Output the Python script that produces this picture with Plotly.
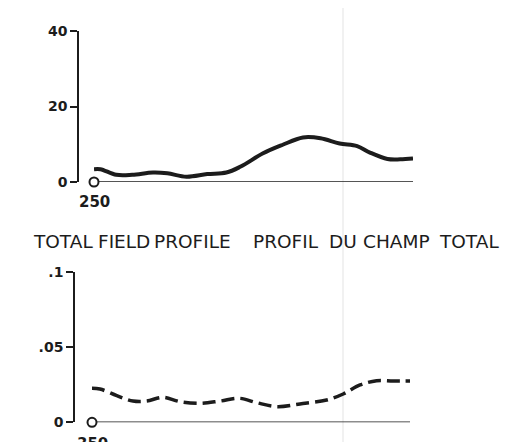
import plotly.graph_objects as go

# Top panel: total field profile, distance along profile (arbitrary units)
top_dist = [0, 2, 7, 12, 18.5, 23, 29, 35.5, 41.5, 46, 53, 59, 65.5, 71, 77, 82.5, 86.5, 92, 96, 100]
top_vals = [3.4, 3.4, 1.9, 1.9, 2.5, 2.3, 1.4, 2.1, 2.5, 4.1, 7.6, 9.8, 11.8, 11.6, 10.2, 9.5, 7.8, 6.1, 6.0, 6.2]

# Bottom panel: dashed profile
bot_dist = [0, 2.5, 7.8, 12.9, 17.2, 22.3, 27.7, 34, 40.3, 46.5, 51.8, 58.2, 65.4, 73.8, 79, 84.3, 89.5, 94.7, 100]
bot_vals = [0.0226, 0.0221, 0.0177, 0.0141, 0.0141, 0.0166, 0.0137, 0.0126, 0.0141, 0.0159, 0.013,
            0.0104, 0.0122, 0.0148, 0.0188, 0.0248, 0.0276, 0.0274, 0.0274]

base_dist = [0, 100]
base_vals = [0, 0]

top_ticks = [0, 20, 40]
top_ticktext = ["0", "20", "40"]
bot_ticks = [0, 0.05, 0.1]
bot_ticktext = ["0", ".05", ".1"]

top_label = "250"
bot_label = "350"
title_words = ["TOTAL", "FIELD", "PROFILE", "PROFIL", "DU", "CHAMP", "TOTAL"]
title_word_x = [32, 97, 153, 252, 328, 362, 438]   # left edge of each word (page px)

W, H = 508, 442
OFF = 8  # browser body margin
ink = "#1c1c1c"


def px(x):
    return (x - OFF) / W


def py(y):
    return 1 - (y - OFF) / H


fig = go.Figure()

# top
fig.add_trace(go.Scatter(x=base_dist, y=base_vals, mode="lines", line=dict(color=ink, width=1.6),
                         xaxis="x", yaxis="y", hoverinfo="skip", cliponaxis=False))
fig.add_trace(go.Scatter(x=top_dist, y=top_vals, mode="lines", line=dict(color=ink, width=4, shape="spline"),
                         xaxis="x", yaxis="y", cliponaxis=False))
fig.add_trace(go.Scatter(x=[base_dist[0]], y=[base_vals[0]], mode="markers",
                         marker=dict(symbol="circle", size=9, color="white", line=dict(width=2, color=ink)),
                         xaxis="x", yaxis="y", cliponaxis=False))

# bottom
fig.add_trace(go.Scatter(x=base_dist, y=base_vals, mode="lines", line=dict(color=ink, width=1.8),
                         xaxis="x2", yaxis="y2", hoverinfo="skip", cliponaxis=False))
fig.add_trace(go.Scatter(x=bot_dist, y=bot_vals, mode="lines",
                         line=dict(color=ink, width=3.5, shape="spline", dash="13px,6px"),
                         xaxis="x2", yaxis="y2", cliponaxis=False))
fig.add_trace(go.Scatter(x=[base_dist[0]], y=[base_vals[0]], mode="markers",
                         marker=dict(symbol="circle", size=9, color="white", line=dict(width=2, color=ink)),
                         xaxis="x2", yaxis="y2", cliponaxis=False))

tickfont = dict(family="DejaVu Sans", size=14, color=ink, weight="bold")
labelfont = dict(family="DejaVu Sans", size=15, color=ink, weight="bold")
titlefont = dict(family="DejaVu Sans", size=18.5, color=ink)

axis_common = dict(showline=True, linecolor=ink, linewidth=1.6, ticks="outside", ticklen=7, tickwidth=1.6,
                   tickcolor=ink, tickfont=tickfont, showgrid=False, zeroline=False, automargin=False,
                   fixedrange=True)

annotations = [
    dict(text=top_label, x=0, y=0, xref="x", yref="y", xanchor="center", yanchor="top", yshift=-9,
         showarrow=False, font=labelfont),
    dict(text=bot_label, x=0, y=0, xref="x2", yref="y2", xanchor="center", yanchor="top", yshift=-11,
         showarrow=False, font=labelfont),
]
for w, xw in zip(title_words, title_word_x):
    annotations.append(dict(text=w, x=px(xw), y=py(241), xref="paper", yref="paper", xanchor="left",
                            yanchor="middle", showarrow=False, font=titlefont, borderpad=0))

fig.update_layout(
    width=W, height=H, autosize=False, margin=dict(l=0, r=0, t=0, b=0, pad=0),
    paper_bgcolor="white", plot_bgcolor="rgba(0,0,0,0)", showlegend=False,
    xaxis=dict(domain=[px(94), px(413)], range=[0, 100], visible=False, anchor="y", automargin=False),
    yaxis=dict(domain=[py(182), py(31)], range=[0, 40], anchor="free", position=px(78),
               tickvals=top_ticks, ticktext=top_ticktext, **axis_common),
    xaxis2=dict(domain=[px(92), px(410)], range=[0, 100], visible=False, anchor="y2", automargin=False),
    yaxis2=dict(domain=[py(422.3), py(271.7)], range=[0, 0.1], anchor="free", position=px(74),
                tickvals=bot_ticks, ticktext=bot_ticktext, **axis_common),
    shapes=[dict(type="line", xref="paper", yref="paper", x0=px(343), x1=px(343), y0=0, y1=1,
                 line=dict(color="#ededed", width=1.5), layer="below")],
    annotations=annotations,
)

fig.write_html("out.html", config=dict(displayModeBar=False))
